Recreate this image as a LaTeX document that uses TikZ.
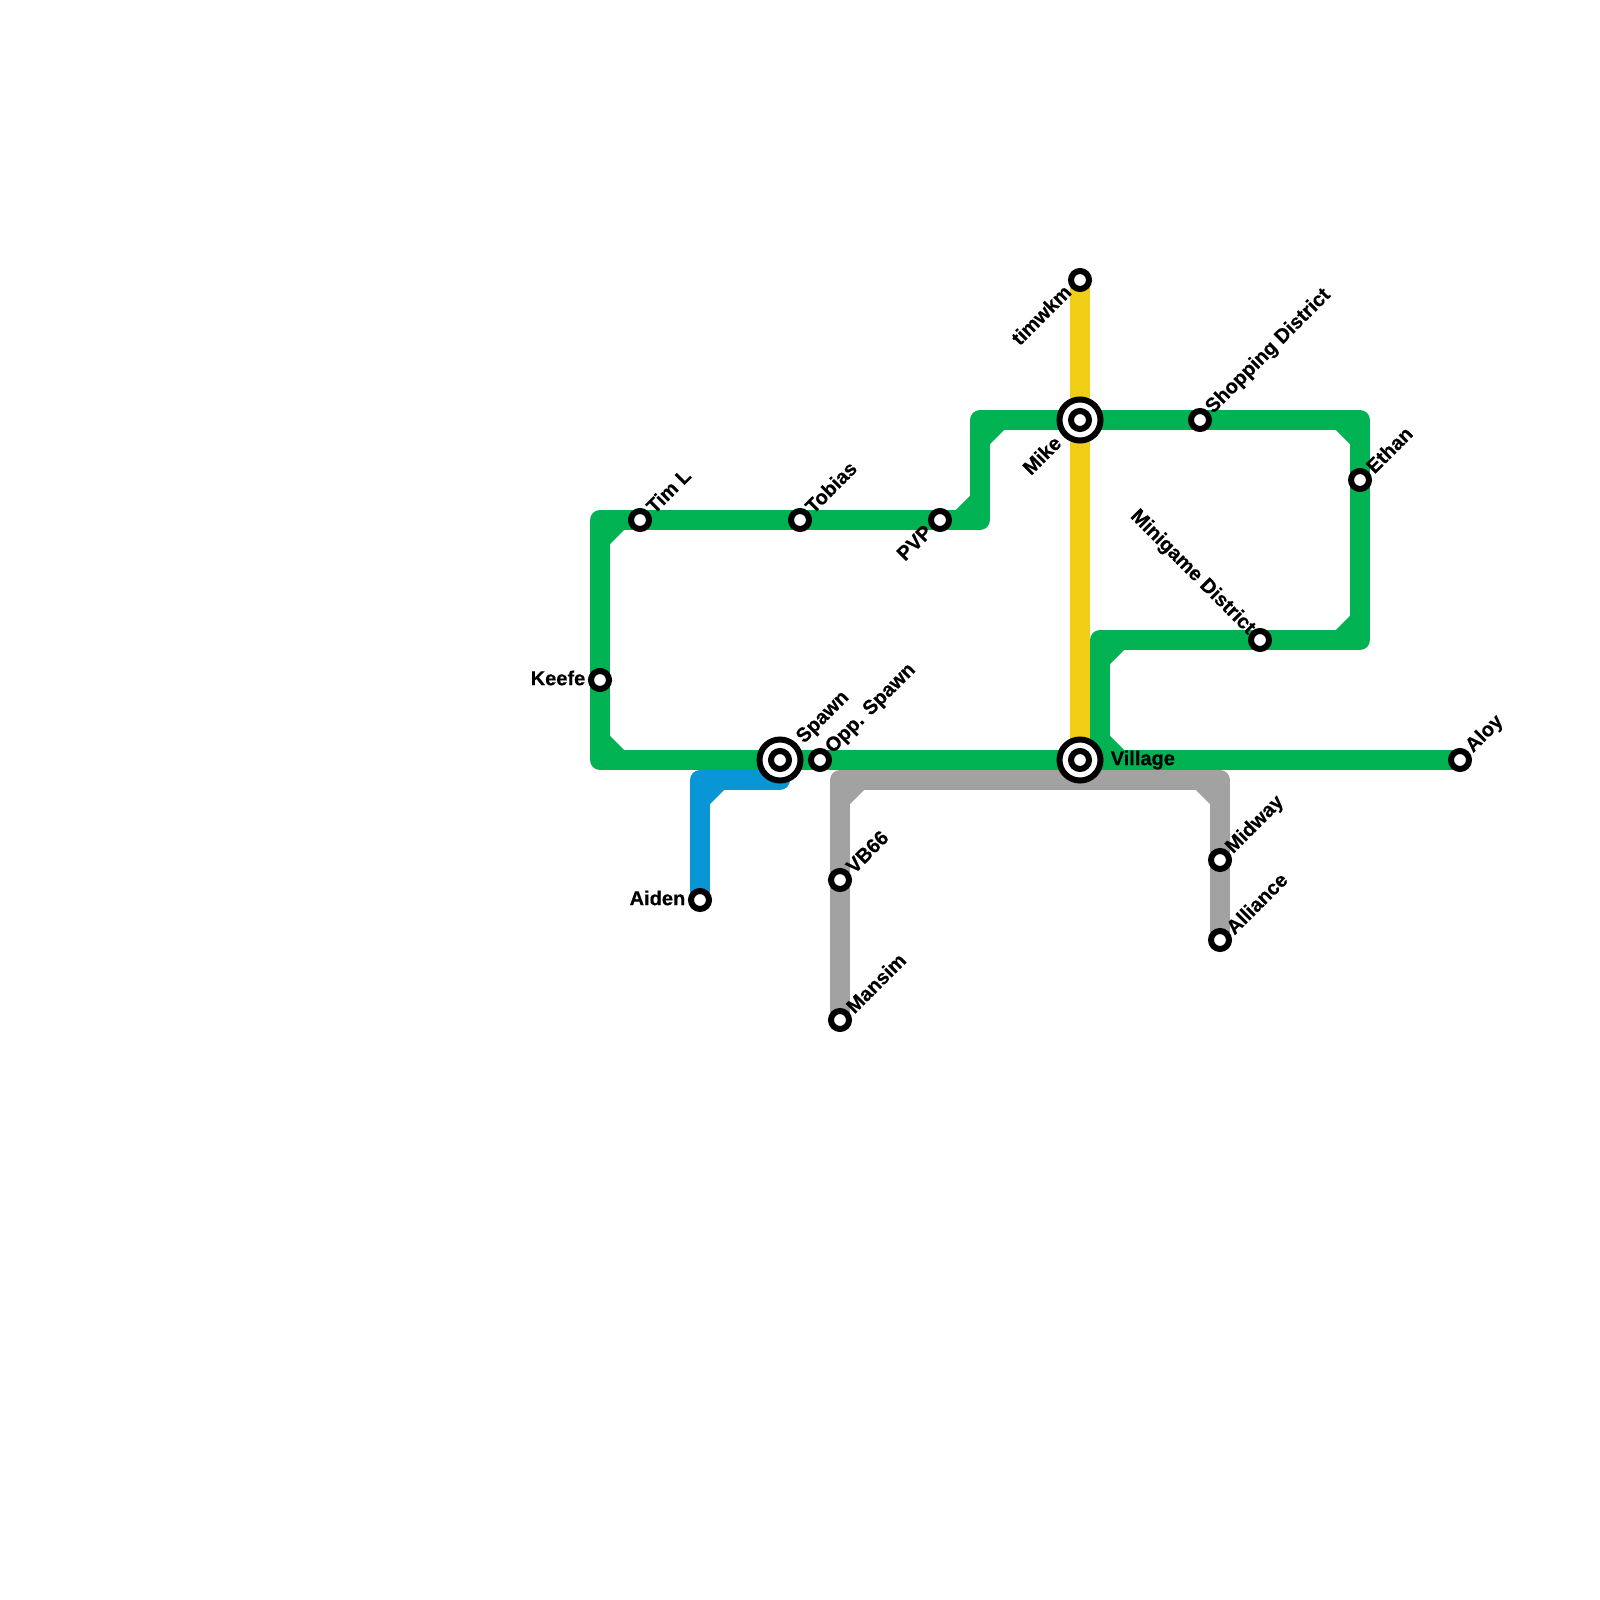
\documentclass[tikz,border=0pt]{standalone}
\usepackage{fontspec}
\setmainfont[BoldFeatures={FakeBold=0.4}]{Liberation Sans}
\usetikzlibrary{calc,backgrounds}
\definecolor{greenline}{HTML}{00B251}
\definecolor{yellowline}{HTML}{F0CE15}
\definecolor{blueline}{HTML}{0896D7}
\definecolor{greyline}{HTML}{A2A2A2}

\begin{document}
\begin{tikzpicture}[
  x=0.01cm, y=-0.01cm,
  tr/.style={line width=0.2cm, line join=round, line cap=round},
  stn/.style={draw, circle, fill=white, line width=0.06cm, minimum size=0.18cm, inner sep=0pt},
  hub/.style={draw, circle, fill=white, line width=0.06cm, minimum size=0.41cm, inner sep=0pt},
  lab/.style={font=\bfseries\fontsize{5.7pt}{6pt}\selectfont, inner sep=0pt},
  ne/.style={lab, rotate=45, anchor=west},
  sw/.style={lab, rotate=45, anchor=east}
]
\useasboundingbox (0,0) rectangle (1600,1600);

\coordinate (g1) at (600,760);
\coordinate (g2) at (600,520);
\coordinate (g3) at (980,520);
\coordinate (g4) at (980,420);
\coordinate (g5) at (1360,420);
\coordinate (g6) at (1360,640);
\coordinate (g7) at (1100,640);
\coordinate (g8) at (1100,760);
\coordinate (b0) at (780,780);
\coordinate (b1) at (700,780);
\coordinate (s1) at (840,780);
\coordinate (s2) at (1220,780);

% stations
\node[stn] (aiden) at (700,900) {};
\node[stn] (keefe) at (600,680) {};
\node[stn] (timl) at (640,520) {};
\node[stn] (tobias) at (800,520) {};
\node[stn] (pvp) at (940,520) {};
\node[stn] (opp) at (820,760) {};
\node[stn] (timwkm) at (1080,280) {};
\node[stn] (shop) at (1200,420) {};
\node[stn] (ethan) at (1360,480) {};
\node[stn] (mini) at (1260,640) {};
\node[stn] (aloy) at (1460,760) {};
\node[stn] (vb) at (840,880) {};
\node[stn] (mansim) at (840,1020) {};
\node[stn] (midway) at (1220,860) {};
\node[stn] (alliance) at (1220,940) {};
\node[hub] (spawn) at (780,760) {};
\node[stn] (spawnin) at (spawn) {};
\node[hub] (mike) at (1080,420) {};
\node[stn] (mikein) at (mike) {};
\node[hub] (village) at (1080,760) {};
\node[stn] (villagein) at (village) {};

% lines
\begin{scope}[on background layer]
\draw[tr, blueline] (aiden.center) -- (b1) -- (b0);
\draw[tr, blueline] ($(b1)+(0,20)$) -- ($(b1)+(20,0)$);
\draw[tr, greyline] (mansim.center) -- (s1) -- (s2) -- (alliance.center);
\draw[tr, greyline] ($(s1)+(0,20)$) -- ($(s1)+(20,0)$);
\draw[tr, greyline] ($(s2)+(0,20)$) -- ($(s2)+(-20,0)$);
\draw[tr, greenline] (aloy.center) -- (g1) -- (g2) -- (g3) -- (g4) -- (g5) -- (g6) -- (g7) -- (g8);
\draw[tr, greenline] ($(g1)+(0,-20)$) -- ($(g1)+(20,0)$);
\draw[tr, greenline] ($(g2)+(0,20)$) -- ($(g2)+(20,0)$);
\draw[tr, greenline] ($(g3)+(-20,0)$) -- ($(g3)+(0,-20)$);
\draw[tr, greenline] ($(g4)+(0,20)$) -- ($(g4)+(20,0)$);
\draw[tr, greenline] ($(g5)+(-20,0)$) -- ($(g5)+(0,20)$);
\draw[tr, greenline] ($(g6)+(0,-20)$) -- ($(g6)+(-20,0)$);
\draw[tr, greenline] ($(g7)+(0,20)$) -- ($(g7)+(20,0)$);
\draw[tr, greenline] ($(g8)+(0,-20)$) -- ($(g8)+(20,0)$);
\draw[tr, yellowline] (timwkm.center) -- (village.center);
\end{scope}

% labels
\node[lab, anchor=east] (aidenl) at ($(aiden)+(-14,-2)$) {Aiden};
\node[lab, anchor=east] (keefel) at ($(keefe)+(-14,-2)$) {Keefe};
\node[lab, anchor=west] (villagel) at ($(village)+(30,0)$) {Village};
\node[ne] (timll) at ($(timl)+(9,-10)$) {Tim L};
\node[ne] (tobiasl) at ($(tobias)+(8,-10)$) {Tobias};
\node[ne] (spawnl) at ($(spawn)+(20,-19)$) {Spawn};
\node[ne] (oppl) at ($(opp)+(9,-9)$) {Opp. Spawn};
\node[ne] (shopl) at ($(shop)+(9,-9)$) {Shopping District};
\node[ne] (ethanl) at ($(ethan)+(9,-10)$) {Ethan};
\node[ne] (aloyl) at ($(aloy)+(9,-10)$) {Aloy};
\node[ne] (vbl) at ($(vb)+(9,-10)$) {VB66};
\node[ne] (mansiml) at ($(mansim)+(9,-10)$) {Mansim};
\node[ne] (midwayl) at ($(midway)+(9,-9)$) {Midway};
\node[ne] (alliancel) at ($(alliance)+(9,-9)$) {Alliance};
\node[sw] (pvpl) at ($(pvp)+(-11,8)$) {PVP};
\node[sw] (timwkml) at ($(timwkm)+(-12,8)$) {timwkm};
\node[sw] (mikel) at ($(mike)+(-22,19)$) {Mike};
\node[lab, rotate=-45, anchor=east] (minil) at ($(mini)+(-8,-8)$) {Minigame District};
\end{tikzpicture}
\end{document}
